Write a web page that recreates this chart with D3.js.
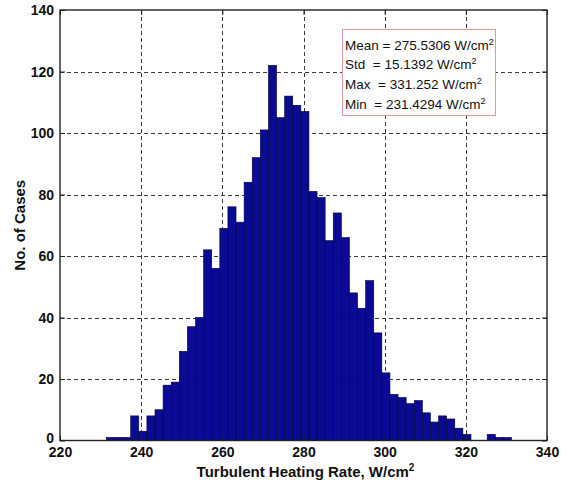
<!DOCTYPE html>
<html>
<head>
<meta charset="utf-8">
<script src="https://cdn.jsdelivr.net/npm/d3@7"></script>
<style>
  body { margin: 0; background: #fff; }
  svg { display: block; }
  text { font-family: "Liberation Sans", Arial, sans-serif; }
</style>
</head>
<body>
<svg id="chart" width="567" height="491"></svg>
<script>
// Histogram counts (50 equal-width bins spanning min..max)
const counts = [1, 1, 1, 8, 3, 8, 10, 18, 19, 29,
                37, 40, 62, 56, 69, 76, 71, 84, 92, 101,
                122, 105, 112, 109, 107, 81, 79, 65, 74, 66,
                48, 43, 52, 35, 22, 15, 14, 12, 13, 9,
                6, 8, 7, 4, 2, 0, 0, 2, 1, 1];
const rangeMin = 231.4294;
const rangeMax = 331.252;

const xTicks = [220, 240, 260, 280, 300, 320, 340];
const yTicks = [0, 20, 40, 60, 80, 100, 120, 140];

const statNames = ["Mean", "Std ", "Max ", "Min "];
const statValues = ["275.5306", "15.1392", "331.252", "231.4294"];
const statUnit = "W/cm";

const xTitle = "Turbulent Heating Rate, W/cm";
const yTitle = "No. of Cases";

const svg = d3.select("#chart");
const plot = { left: 60, right: 547, top: 10, bottom: 440.5 };

const x = d3.scaleLinear().domain([220, 340]).range([plot.left, plot.right]);
const y = d3.scaleLinear().domain([0, 140]).range([plot.bottom, plot.top]);

// dashed grid
const grid = svg.append("g").attr("stroke", "#3a3a3a").attr("stroke-width", 1)
  .attr("stroke-dasharray", "4,3").attr("fill", "none");
grid.selectAll("line.gx").data(xTicks.slice(1, -1)).join("line")
  .attr("x1", d => Math.round(x(d)) + 0.5).attr("x2", d => Math.round(x(d)) + 0.5)
  .attr("y1", plot.top).attr("y2", plot.bottom);
grid.selectAll("line.gy").data(yTicks.slice(1, -1)).join("line")
  .attr("y1", d => Math.round(y(d)) + 0.5).attr("y2", d => Math.round(y(d)) + 0.5)
  .attr("x1", plot.left).attr("x2", plot.right);

// bars
const binW = (rangeMax - rangeMin) / counts.length;
const bins = counts.map((c, i) => ({ x0: rangeMin + i * binW, x1: rangeMin + (i + 1) * binW, n: c }));
svg.append("g").selectAll("rect").data(bins.filter(b => b.n > 0)).join("rect")
  .attr("x", d => x(d.x0))
  .attr("width", d => x(d.x1) - x(d.x0))
  .attr("y", d => y(d.n))
  .attr("height", d => y(0) - y(d.n))
  .attr("fill", "#0a0a94")
  .attr("stroke", "#00003a")
  .attr("stroke-width", 0.6);

// axes: ticks point inward on all four sides
const tickLen = 5;
const axB = svg.append("g").attr("transform", `translate(0,${plot.bottom})`)
  .call(d3.axisBottom(x).tickValues(xTicks).tickSizeInner(-tickLen).tickSizeOuter(0).tickPadding(8));
const axT = svg.append("g").attr("transform", `translate(0,${plot.top})`)
  .call(d3.axisTop(x).tickValues(xTicks).tickSizeInner(-tickLen).tickSizeOuter(0).tickFormat(""));
const axL = svg.append("g").attr("transform", `translate(${plot.left},0)`)
  .call(d3.axisLeft(y).tickValues(yTicks).tickSizeInner(-tickLen).tickSizeOuter(0).tickPadding(6));
const axR = svg.append("g").attr("transform", `translate(${plot.right},0)`)
  .call(d3.axisRight(y).tickValues(yTicks).tickSizeInner(-tickLen).tickSizeOuter(0).tickFormat(""));
[axB, axT, axL, axR].forEach(a => {
  a.select(".domain").remove();
  a.selectAll(".tick line").attr("stroke", "#222").attr("stroke-width", 1);
  a.selectAll("text").attr("font-family", "Liberation Sans, Arial, sans-serif")
    .attr("font-size", 14).attr("font-weight", "bold").attr("fill", "#111");
});
axB.selectAll("text").attr("dy", "0.62em");
axL.selectAll("text").attr("dy", d => d === 0 ? "0.12em" : "0.35em");

// frame
svg.append("rect")
  .attr("x", plot.left).attr("y", plot.top)
  .attr("width", plot.right - plot.left).attr("height", plot.bottom - plot.top)
  .attr("fill", "none").attr("stroke", "#222").attr("stroke-width", 1.4);

// axis titles
const xt = svg.append("text").attr("x", (plot.left + plot.right) / 2 + 2).attr("y", 477)
  .attr("text-anchor", "middle").attr("font-size", 15).attr("font-weight", "bold").attr("fill", "#111")
  .text(xTitle);
xt.append("tspan").attr("dy", -6).attr("font-size", 10).text("2");

svg.append("text")
  .attr("transform", `translate(25,${(plot.top + plot.bottom) / 2}) rotate(-90)`)
  .attr("text-anchor", "middle").attr("font-size", 15).attr("font-weight", "bold").attr("fill", "#111")
  .text(yTitle);

// statistics box
const box = svg.append("g");
box.append("rect").attr("x", 342.5).attr("y", 29.5).attr("width", 153).attr("height", 86)
  .attr("fill", "#fff").attr("stroke", "#e29a9a").attr("stroke-width", 1);
statNames.forEach((name, i) => {
  const t = box.append("text")
    .attr("x", 345).attr("y", 49.5 + i * 19.7)
    .attr("xml:space", "preserve").style("white-space", "pre")
    .attr("font-size", 13.5).attr("fill", "#111")
    .text(`${name} = ${statValues[i]} ${statUnit}`);
  t.append("tspan").attr("dy", -5).attr("font-size", 9).text("2");
});
</script>
</body>
</html>
